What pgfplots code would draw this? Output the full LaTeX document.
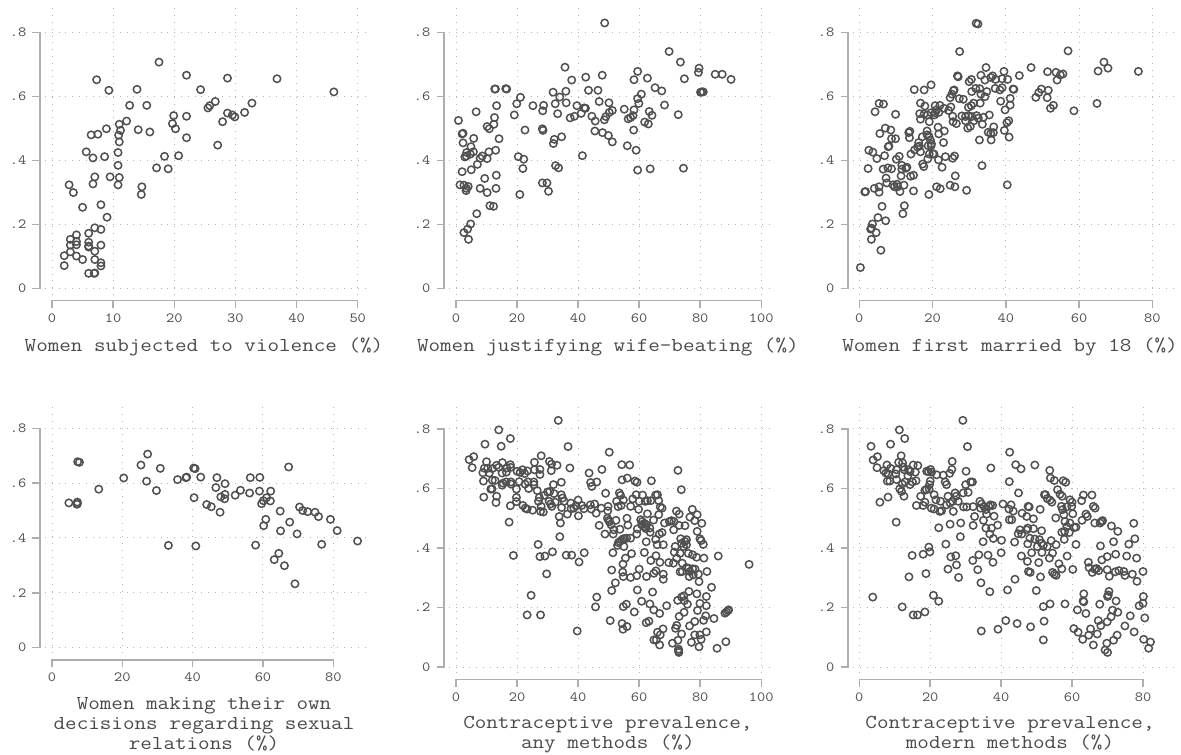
\documentclass[border=0pt]{standalone}
\usepackage{fontspec}
\setmainfont[FakeStretch=1.14]{Latin Modern Mono}
\usepackage{pgfplots}
\pgfplotsset{compat=1.18}
\definecolor{ax}{HTML}{AEAEAE}
\definecolor{mk}{HTML}{505050}
\definecolor{txt}{HTML}{4A4A4A}
\definecolor{gd}{HTML}{B4B4B4}
\newcommand\panelgrid[5]{%
  \pgfplotsinvokeforeach{0,.2,.4,.6,.8}{\draw[gd,line width=1pt,dash pattern=on 1pt off 5.8pt] (axis cs:#1,##1) -- (axis cs:#2,##1);}%
  \pgfplotsinvokeforeach{#5}{\draw[gd,line width=1pt,dash pattern=on 1pt off 5.8pt] (axis cs:##1,#3) -- (axis cs:##1,#4);}%
}
\newcommand\panelaxes[1]{%
  \draw[ax,line width=1.5pt,line cap=rect] (axis cs:0,\pgfkeysvalueof{/pgfplots/ymin}) -- (axis cs:#1,\pgfkeysvalueof{/pgfplots/ymin});%
  \draw[ax,line width=1.5pt,line cap=rect] (axis cs:\pgfkeysvalueof{/pgfplots/xmin},0) -- (axis cs:\pgfkeysvalueof{/pgfplots/xmin},.8);%
}
\pgfplotsset{
  panel/.style={
    scale only axis, anchor=south west, clip=false,
    axis x line*=bottom, axis y line*=left,
    x axis line style={draw=none}, y axis line style={draw=none},
    tick align=outside, major tick length=7.5pt,
    tick style={draw=ax,line width=1.5pt},
    ytick={0,.2,.4,.6,.8}, yticklabels={0,.2,.4,.6,.8},
    tick label style={font=\fontsize{14}{14.5}\selectfont,text=txt,inner sep=0pt},
    xticklabel style={anchor=north,yshift=-5.5pt},
    yticklabel style={anchor=east,xshift=-6pt},
    every axis x label/.style={at={(axis description cs:0.5,0)},anchor=north,yshift=-37pt,font=\fontsize{19.7}{19.9}\selectfont,text=txt,align=center,inner sep=0pt},
  },
  dots/.style={only marks,mark=o,mark size=3.7pt,mark options={draw=mk,line width=1.5pt,fill=none}},
}
\begin{document}
\begin{tikzpicture}
\path[use as bounding box] (0,0) rectangle (1181pt,755pt);
% ---------- panel 1
\begin{axis}[panel,at={(40pt,454.3pt)},width=328pt,height=292.7pt,
  xmin=-1.963,xmax=51.68,ymin=-.0374,ymax=.8758,
  xtick={0,10,20,30,40,50},xticklabels={0,10,20,30,40,50},
  xlabel={Women subjected to violence (\%)}]
\panelgrid{-1.145}{51.68}{-.0197}{.8758}{0,10,20,30,40,50}
\panelaxes{50}
\addplot[dots] coordinates {
(17.5,.707)(22,.666)(28.7,.657)(36.8,.655)(46.1,.614)(7.3,.652)(9.3,.619)(13.9,.622)(24.3,.621)(12.7,.572)(15.5,.572)(26.7,.584)(25.8,.571)(25.5,.564)(32.7,.579)(31.5,.550)(28.7,.548)(29.5,.542)(29.9,.536)(19.9,.540)(22,.538)(12.2,.523)(11,.513)(19.7,.515)(27.9,.521)(20.2,.499)(8.9,.499)(11.2,.494)(14.1,.496)(16,.489)(6.4,.480)(7.5,.482)(10.9,.479)(11,.458)(22,.471)(27.1,.448)(5.6,.427)(10.8,.425)(6.7,.408)(8.6,.412)(18.4,.413)(20.7,.415)(10.8,.385)(17.1,.377)(19,.374)(7,.349)(9.5,.349)(11,.347)(6.7,.327)(10.8,.324)(2.8,.324)(14.7,.318)(14.6,.294)(3.5,.300)(5,.254)(8,.262)(9,.223)(7,.190)(8,.185)(6,.173)(4,.168)(3,.154)(4,.147)(4,.137)(3,.136)(6,.145)(6,.133)(6,.130)(8,.136)(7,.117)(3,.115)(2,.103)(4,.102)(5,.091)(7,.091)(8,.081)(8,.071)(2,.072)(6,.048)(7,.049)(6.9,.048)
};
\end{axis}
% ---------- panel 2
\begin{axis}[panel,at={(444pt,454.3pt)},width=327.7pt,height=292.7pt,
  xmin=-3.93,xmax=103.41,ymin=-.0374,ymax=.8758,
  xtick={0,20,40,60,80,100},xticklabels={0,20,40,60,80,100},
  xlabel={Women justifying wife-beating (\%)}]
\panelgrid{-2.29}{103.41}{-.0197}{.8758}{0,20,40,60,80,100}
\panelaxes{100}
\addplot[dots] coordinates {
(48.7,.829)(69.8,.740)(73.5,.707)(79.6,.688)(79.4,.675)(84.9,.669)(87.2,.669)(90.1,.653)(74.8,.655)(35.7,.691)(47.9,.666)(42.5,.660)(37.9,.651)(59.5,.678)(58.3,.652)(62.7,.657)(65.2,.627)(67.4,.617)(60.7,.607)(59.5,.593)(59.9,.578)(58.3,.558)(68.3,.573)(72.8,.543)(80.1,.613)(80.5,.614)(81,.614)(12.7,.623)(12.9,.623)(16.3,.624)(16.6,.623)(21.1,.597)(19.9,.577)(31.8,.613)(36,.616)(34,.598)(43.4,.619)(46.5,.619)(46.9,.584)(50.1,.580)(32.5,.577)(36.1,.580)(39.6,.571)(25.2,.571)(28.7,.572)(28.4,.555)(6.6,.552)(13.3,.571)(12.6,.534)(19.1,.542)(33.3,.546)(37.4,.533)(38.8,.538)(41,.547)(42,.564)(42.4,.563)(44.5,.538)(45.6,.523)(48.6,.527)(49.1,.537)(50.2,.550)(51.2,.556)(55.1,.560)(56.4,.530)(57.2,.534)(58,.540)(61.8,.520)(63,.514)(63.3,.553)(64.2,.541)(.8,.525)(12.4,.513)(10.2,.506)(10.9,.499)(22.6,.495)(28.3,.499)(28.5,.494)(45.5,.492)(48,.487)(49.9,.478)(51.2,.458)(58.2,.495)(2.3,.485)(2,.483)(5.8,.469)(2.3,.455)(14.1,.468)(34.6,.474)(32.2,.466)(31.9,.453)(56.1,.446)(59,.432)(4.9,.443)(13,.432)(10.8,.427)(5.7,.427)(3.5,.425)(4.7,.420)(3.4,.414)(2.9,.411)(41.4,.415)(20.4,.412)(22.2,.404)(8.6,.414)(7.9,.407)(10.2,.406)(7,.388)(5,.371)(2,.365)(21.9,.375)(32.6,.384)(33.6,.377)(59.5,.370)(63.6,.374)(74.5,.376)(13.2,.354)(9.4,.344)(1.3,.324)(2.6,.323)(4,.319)(3.4,.313)(3.3,.306)(7.9,.313)(13.1,.313)(10.2,.300)(28.3,.330)(29.8,.330)(30.3,.304)(20.9,.294)(11.1,.259)(12.3,.257)(6.8,.234)(4.8,.202)(3.8,.186)(2.6,.175)(4.1,.154)
};
\end{axis}
% ---------- panel 3
\begin{axis}[panel,at={(848pt,454.3pt)},width=324pt,height=292.7pt,
  xmin=-3.085,xmax=85.38,ymin=-.0374,ymax=.8758,
  xtick={0,20,40,60,80},xticklabels={0,20,40,60,80},
  xlabel={Women first married by 18 (\%)}]
\panelgrid{-1.72}{86.5}{-.0197}{.8758}{0,20,40,60,80}
\panelaxes{80}
\addplot[dots] coordinates {
(.3,.066)(5.9,.120)(3.3,.154)(4.6,.175)(3.1,.186)(3.3,.189)(3.6,.202)(5.1,.222)(7.2,.212)(6.2,.257)(12.3,.259)(11.9,.234)(1.5,.302)(1.7,.303)(4.1,.313)(5.4,.318)(5.4,.301)(7.5,.330)(9.2,.324)(10.3,.326)(9.6,.318)(10.5,.318)(11.1,.303)(12.2,.323)(14.8,.305)(19,.294)(21.1,.318)(22.1,.312)(24.8,.323)(26.1,.318)(26.2,.352)(29.3,.307)(40.4,.324)(33.5,.384)(2.4,.375)(6.5,.373)(7.3,.345)(7.8,.377)(8.8,.374)(11.4,.352)(11.6,.373)(11.6,.385)(12.7,.376)(13,.379)(14,.351)(14.8,.354)(6.9,.415)(4.8,.406)(2.6,.432)(3.7,.426)(10.1,.404)(10.9,.413)(5.6,.484)(7.1,.501)(8.6,.495)(8.8,.468)(9.9,.468)(8.1,.445)(7.9,.443)(4.3,.552)(5.4,.578)(6.6,.576)(9.9,.544)(13.5,.487)(13.8,.491)(13.7,.471)(14.1,.420)(15.1,.433)(15.9,.442)(16.2,.456)(16.4,.445)(16.7,.427)(17.2,.474)(17.3,.389)(17.6,.381)(18.5,.480)(18.5,.492)(19,.476)(18.7,.405)(19.1,.420)(18.8,.446)(19.4,.464)(19.7,.452)(19.6,.446)(20.4,.420)(20.1,.421)(21.5,.504)(21.7,.483)(21.6,.402)(22.6,.379)(23.2,.492)(23,.456)(23.5,.412)(25.5,.407)(26,.414)(15,.621)(17.7,.620)(19.6,.636)(16.7,.579)(17.9,.570)(16.5,.546)(16.7,.529)(17.7,.545)(18.6,.542)(19.1,.521)(19.6,.549)(20.5,.542)(20.7,.549)(20.7,.571)(21.1,.558)(21.7,.550)(22,.572)(23.1,.563)(24.4,.556)(25,.567)(25.5,.538)(25.6,.521)(26.5,.515)(24.8,.596)(25.3,.607)(25.7,.618)(25.9,.620)(26.8,.664)(27,.661)(27.4,.740)(27.3,.593)(28.4,.591)(28,.539)(29,.537)(29,.524)(29.6,.501)(30.3,.506)(29.8,.540)(29.8,.566)(30.6,.571)(31.2,.579)(30.7,.537)(31.3,.524)(32,.540)(32.5,.532)(30,.646)(30.6,.653)(30.7,.615)(31.8,.625)(32.9,.624)(33.2,.607)(33,.579)(31.9,.828)(32.4,.826)(33.2,.666)(34.6,.690)(34.3,.651)(34.3,.599)(34.8,.615)(33.6,.513)(33.9,.535)(35.5,.542)(32.8,.464)(35.9,.485)(35.2,.488)(36,.464)(36.6,.487)(36.7,.505)(35.9,.659)(36.4,.664)(37.2,.653)(37.1,.625)(38.4,.620)(39,.627)(39,.655)(39.5,.678)(40.5,.653)(38.6,.585)(39.8,.558)(41.2,.594)(41.2,.573)(42,.623)(42.2,.622)(43.7,.665)(39.6,.494)(40.3,.518)(40.8,.524)(40.9,.473)(46.9,.690)(51.4,.677)(53.7,.675)(54.9,.667)(55.6,.670)(54,.651)(48.2,.597)(49,.612)(49.7,.623)(51.6,.619)(51.3,.596)(52.2,.563)(53,.572)(57,.742)(58.6,.555)(64.9,.578)(65.2,.679)(66.8,.707)(67.9,.688)(76.2,.678)
};
\end{axis}
% ---------- panel 4
\begin{axis}[panel,at={(40pt,95pt)},width=328pt,height=255pt,
  xmin=-3.413,xmax=89.87,ymin=-.04485,ymax=.88496,
  xtick={0,20,40,60,80},xticklabels={0,20,40,60,80},
  xlabel={Women making their own\\decisions regarding sexual\\relations (\%)}]
\panelgrid{-1.99}{89.87}{-.019}{.88496}{0,20,40,60,80}
\panelaxes{80}
\addplot[dots] coordinates {
(4.8,.528)(7.2,.531)(7.2,.525)(7.1,.523)(7.3,.678)(7.8,.676)(13.3,.578)(20.4,.619)(25.3,.666)(27.2,.706)(26.9,.607)(29.7,.573)(30.8,.654)(33.1,.373)(35.7,.613)(38.1,.620)(38.3,.622)(40.3,.655)(40.7,.653)(42.3,.622)(40.4,.547)(40.9,.371)(44,.522)(45.3,.514)(46.9,.620)(46.6,.584)(49.2,.598)(47.8,.494)(48,.550)(49.2,.559)(49.1,.543)(52.1,.556)(53.6,.574)(56.2,.564)(56.4,.620)(59.1,.621)(59,.571)(62.2,.571)(62.1,.535)(60.1,.536)(59.6,.525)(61,.547)(64.9,.498)(60.8,.468)(60.2,.445)(57.9,.374)(67.3,.659)(67.6,.458)(65,.426)(69.7,.415)(64.5,.344)(63.2,.321)(66.1,.299)(69.1,.233)(70.4,.513)(71.3,.500)(72.7,.496)(74.8,.494)(75.8,.478)(76.7,.377)(79.2,.468)(81.1,.427)(86.9,.389)
};
\end{axis}
% ---------- panel 5
\begin{axis}[panel,at={(444pt,75.7pt)},width=327.7pt,height=274.3pt,
  xmin=-3.93,xmax=103.41,ymin=-.04134,ymax=.88067,
  xtick={0,20,40,60,80,100},xticklabels={0,20,40,60,80,100},
  xlabel={Contraceptive prevalence,\\any methods (\%)}]
\panelgrid{-2.29}{103.41}{-.02}{.88067}{0,20,40,60,80,100}
\panelaxes{100}
\addplot[dots] coordinates {
(33.5,.829)(14,.797)(17.8,.768)(9.5,.749)(14.8,.742)(36.7,.741)(50.2,.722)(4.3,.697)(5.8,.707)(5.3,.670)(27.9,.710)(30.6,.691)(31.3,.682)(33.1,.678)(37.3,.669)(25.7,.688)(10,.690)(15.2,.687)(17.8,.680)(54.3,.680)(56.9,.679)(47.8,.664)(43.6,.652)(72.7,.661)(73.8,.596)(8.8,.653)(9.3,.668)(10.4,.668)(10.9,.652)(11.9,.667)(13.3,.678)(14,.671)(15.1,.652)(16.7,.669)(16.5,.655)(17.9,.671)(20,.658)(21,.654)(21.8,.663)(22.5,.650)(23.4,.659)(25.7,.663)(27.5,.664)(27.5,.647)(31.2,.660)(9,.625)(11.9,.628)(12.8,.627)(11.4,.598)(11.8,.599)(15.1,.611)(15.4,.618)(16.4,.622)(18,.622)(18,.615)(20.7,.623)(22.6,.615)(23.6,.622)(23.8,.600)(25.5,.622)(25.5,.613)(26.6,.593)(31.9,.613)(34.5,.621)(44.1,.620)(44.5,.607)(46.1,.622)(54.4,.629)(56.1,.635)(58.6,.625)(59.3,.621)(64,.626)(9.1,.571)(13.3,.574)(13.1,.553)(19.8,.598)(19.8,.570)(19.8,.556)(17.8,.542)(17.4,.487)(21.9,.543)(22.7,.534)(23.3,.531)(25.1,.527)(27,.557)(27.3,.570)(27.9,.540)(27.7,.523)(28.6,.521)(28.9,.577)(30,.588)(30.7,.590)(30.5,.557)(31,.548)(31.4,.540)(32.1,.583)(32.5,.554)(34.5,.579)(34.9,.568)(35.4,.557)(34.6,.536)(36.5,.514)(37.6,.551)(37.7,.532)(38.6,.534)(39.3,.542)(40,.561)(40.1,.508)(41.2,.543)(41.9,.532)(44,.545)(44.3,.531)(45.4,.548)(45.9,.517)(47.6,.534)(49,.584)(49.8,.540)(49.7,.525)(33.8,.506)(34.2,.484)(34,.438)(46.9,.476)(48.8,.447)(49.6,.500)(50,.493)(50.3,.488)(50.8,.478)(51.5,.447)(52.4,.493)(51.7,.461)(52.6,.557)(53.1,.539)(53.5,.585)(53.9,.577)(54.1,.543)(54.8,.561)(53.7,.463)(56,.500)(56.3,.477)(57.2,.540)(57.9,.565)(59,.579)(59.8,.530)(60,.557)(61.1,.578)(62,.557)(62.7,.559)(63.8,.559)(62.7,.515)(64.7,.494)(65.4,.578)(66,.579)(66.4,.559)(66.9,.538)(67.5,.534)(66.4,.512)(52.9,.409)(53.2,.418)(53.7,.422)(54.3,.427)(54.8,.431)(55.2,.431)(55.9,.433)(57.2,.433)(55,.405)(59.2,.447)(59.4,.464)(60.5,.495)(61,.489)(60.8,.478)(61.7,.483)(61.9,.472)(62.2,.465)(62.4,.478)(63.5,.467)(63.6,.453)(62.3,.421)(65.4,.429)(65.9,.411)(66.6,.447)(67.5,.452)(67.9,.411)(68.3,.484)(69.9,.489)(70.6,.492)(71.4,.489)(71.3,.461)(72.2,.524)(73.1,.514)(73.1,.476)(75,.475)(77.4,.530)(79,.512)(76.6,.504)(78.2,.492)(80.5,.483)(79,.456)(51.4,.384)(51,.326)(57.5,.381)(61.7,.385)(55.5,.366)(54.7,.346)(54.6,.319)(54.8,.304)(57.2,.301)(59.2,.307)(60,.329)(62.4,.304)(63.8,.358)(64.8,.315)(65.5,.374)(65.5,.323)(66.8,.352)(67.9,.312)(67.9,.295)(69.7,.351)(71.2,.349)(71.8,.405)(71.5,.386)(72.3,.366)(73.4,.382)(74.1,.349)(73.6,.431)(73.9,.416)(74.5,.405)(75,.422)(75.5,.428)(75.5,.411)(76.1,.382)(77.5,.377)(78.8,.369)(79.9,.431)(80.3,.425)(81,.412)(81.2,.366)(85.9,.373)(96,.345)(73.4,.320)(74.1,.321)(75.5,.334)(76.2,.332)(76.6,.321)(77.5,.330)(78.3,.329)(76.4,.304)(77.7,.310)(79.4,.312)(79.6,.287)(82.2,.321)(83.7,.268)(52.2,.283)(51,.257)(59.4,.259)(64.4,.252)(76.3,.254)(78.9,.246)(82,.237)(74.6,.239)(73.9,.235)(72.6,.224)(74.8,.223)(75.8,.211)(79.9,.214)(82,.206)(46.1,.235)(24.6,.241)(45.7,.202)(54.8,.203)(55.8,.211)(60.8,.221)(63.5,.212)(64.8,.192)(66.7,.180)(69,.206)(58.4,.185)(79.1,.190)(74.7,.184)(73.1,.170)(81.8,.172)(84.5,.163)(81.1,.157)(78.2,.153)(76.5,.138)(23.3,.175)(27.7,.175)(50.5,.156)(54.4,.146)(54.7,.127)(56,.136)(62.3,.149)(63.2,.154)(72.3,.140)(71.9,.130)(39.7,.121)(67.8,.128)(66,.117)(66.9,.108)(73.9,.111)(82,.118)(78.2,.108)(79.9,.108)(80.3,.093)(64.8,.091)(65.6,.091)(66.7,.074)(70.9,.080)(72.7,.090)(77.1,.083)(88.4,.085)(79.6,.068)(85.5,.063)(72.9,.060)(72.9,.054)(73,.049)(88.1,.181)(88.6,.185)(89.1,.190)(89.3,.192)(26.9,.412)(27.5,.371)(29.1,.373)(31.6,.387)(18.8,.375)(29.7,.313)(36.1,.376)(37.9,.376)(40.3,.353)(42,.384)
};
\end{axis}
% ---------- panel 6
\begin{axis}[panel,at={(848pt,75.7pt)},width=324pt,height=274.3pt,
  xmin=-3.187,xmax=88.18,ymin=-.04134,ymax=.88067,
  xtick={0,20,40,60,80},xticklabels={0,20,40,60,80},
  xlabel={Contraceptive prevalence,\\modern methods (\%)}]
\panelgrid{-1.78}{89.3}{-.02}{.88067}{0,20,40,60,80}
\panelaxes{80}
\addplot[dots] coordinates {
(29.2,.829)(11.3,.797)(12.8,.768)(8.8,.749)(3.3,.742)(30.5,.741)(42.4,.722)(5.1,.707)(3.9,.696)(5,.670)(11.8,.710)(11.1,.688)(12.2,.686)(12.4,.672)(7.8,.679)(6.9,.660)(7.5,.652)(8.8,.668)(8.1,.650)(7.9,.625)(8.6,.625)(10.5,.663)(10.3,.649)(10.5,.630)(12.7,.663)(13.8,.663)(14.3,.657)(15.2,.679)(16.5,.677)(15.8,.655)(13.7,.643)(26.2,.691)(26.1,.664)(25.5,.651)(23.7,.645)(21.8,.646)(19,.658)(19.5,.657)(20.1,.664)(20.4,.655)(37.1,.669)(30.1,.658)(44.1,.680)(45.6,.666)(49.5,.679)(53.7,.661)(53.9,.635)(55,.627)(57.5,.626)(58.2,.621)(42.3,.623)(44.9,.585)(5.8,.554)(8.1,.571)(10.4,.487)(11.4,.599)(11.9,.590)(12.6,.574)(12.1,.615)(12.9,.622)(14.3,.613)(15,.622)(16,.626)(20,.625)(19.8,.613)(19.7,.598)(18.5,.594)(18.9,.597)(21.1,.579)(16.1,.543)(17.3,.574)(18,.543)(18.5,.554)(20.3,.534)(21.1,.531)(21.6,.562)(22.9,.557)(22.7,.523)(23.2,.525)(24.2,.622)(24.6,.613)(24.6,.545)(25,.574)(25.6,.551)(26.3,.557)(27,.585)(27.3,.574)(26.5,.523)(27.9,.557)(29.3,.585)(30,.613)(30.7,.587)(29.4,.538)(30.3,.538)(31.4,.622)(31.9,.622)(32.1,.539)(32.5,.506)(32.1,.476)(28.6,.484)(25.6,.480)(22.4,.468)(28.5,.438)(34,.557)(34.5,.548)(34.2,.534)(35.2,.539)(35.7,.529)(35,.493)(36.5,.540)(37,.545)(35.9,.514)(37.6,.543)(38,.507)(39,.477)(35.7,.467)(37.3,.467)(36.8,.447)(37.8,.432)(34.9,.421)(40.5,.548)(42.8,.545)(42.2,.531)(43.4,.524)(42.3,.495)(43,.495)(47.6,.540)(47.9,.538)(47.2,.506)(45.9,.517)(49.1,.498)(51,.530)(52.2,.579)(52.5,.579)(53,.566)(53.8,.561)(54.3,.554)(55.4,.501)(55.9,.596)(56.6,.581)(57.2,.574)(57,.540)(57.3,.529)(58.5,.538)(57.7,.512)(58,.489)(59.4,.562)(60,.554)(59.9,.540)(60.2,.515)(59.4,.484)(58.5,.472)(60.6,.469)(61.1,.470)(57.9,.456)(59.2,.452)(57.8,.429)(57.1,.453)(62.7,.559)(63.2,.578)(65.6,.578)(62.8,.493)(63.9,.514)(64.3,.506)(66,.540)(66.5,.534)(66.4,.484)(67.9,.484)(68.3,.489)(68.6,.492)(71.1,.474)(72.9,.456)(77.4,.483)(77.7,.431)(76,.413)(71.7,.421)(68,.407)(61.1,.412)(40.1,.426)(40,.384)(43.8,.420)(45.3,.461)(45.8,.447)(44.8,.448)(47.5,.467)(47.2,.461)(49.1,.465)(48.1,.433)(47.5,.414)(48.6,.384)(51.4,.458)(49.5,.430)(50.8,.428)(50.2,.405)(51.4,.416)(51.9,.409)(53,.405)(54.1,.425)(54.5,.383)(51.5,.385)(55.5,.411)(53.6,.366)(45.7,.373)(47.4,.355)(50.6,.351)(56.3,.347)(57.1,.330)(58.6,.373)(60.2,.328)(64.6,.352)(64.8,.334)(65.7,.318)(66.4,.329)(66.9,.331)(67.5,.324)(68.4,.360)(69.9,.371)(72.3,.379)(75.4,.373)(78.2,.366)(69.9,.327)(70.5,.305)(72.2,.320)(73.2,.324)(74.6,.321)(74.9,.308)(77,.312)(78.3,.288)(80,.321)(47.7,.321)(48.2,.318)(51.1,.303)(54.5,.318)(55,.312)(55.5,.308)(18.8,.314)(14,.303)(25,.329)(27.4,.343)(28,.301)(33.4,.327)(32,.358)(33.7,.377)(36.3,.376)(37.7,.352)(34.3,.283)(36.8,.253)(41.8,.259)(43.9,.295)(49.9,.257)(14.9,.375)(18,.379)(19.6,.403)(19.9,.387)(24.4,.413)(25.8,.370)(27.2,.374)(3.8,.235)(12.1,.202)(15.2,.175)(16.4,.175)(18.5,.185)(20.9,.241)(22.4,.221)(34.4,.121)(39.1,.127)(41.3,.156)(44.5,.146)(48.3,.135)(51.9,.091)(52.1,.154)(51.9,.203)(53.8,.212)(58,.212)(63.3,.246)(63.1,.222)(63.3,.219)(67.8,.211)(61.5,.192)(63.9,.180)(60.5,.129)(61.7,.117)(63,.093)(64.7,.107)(65.2,.128)(67.1,.111)(66,.074)(67.4,.156)(68.1,.139)(69.9,.152)(71,.169)(71.4,.191)(72.9,.184)(70,.237)(70.2,.242)(70.4,.254)(72.4,.222)(76.4,.172)(74.9,.138)(77.5,.118)(72.7,.107)(71.7,.090)(69.8,.080)(69.3,.057)(70,.049)(78.9,.206)(80.1,.237)(80,.214)(80.5,.165)(80.2,.093)(82.1,.084)(81.6,.063)
};
\end{axis}
\end{tikzpicture}
\end{document}
